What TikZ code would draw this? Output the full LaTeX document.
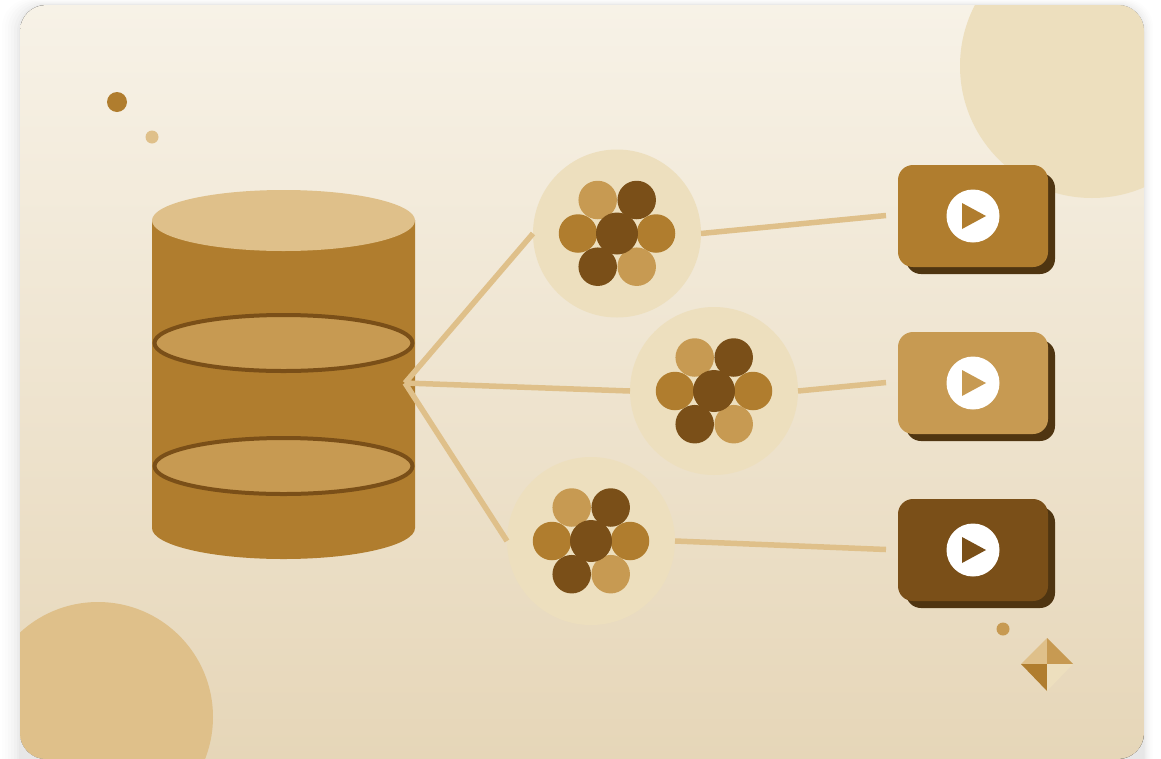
\documentclass[tikz,border=0pt]{standalone}
\definecolor{cMid}{HTML}{B07D2E}
\definecolor{cLight}{HTML}{C79A52}
\definecolor{cDark}{HTML}{7A4F18}
\definecolor{cDeep}{HTML}{4F3511}
\definecolor{cSand}{HTML}{DFC08A}
\definecolor{cPale}{HTML}{EDDFBE}
\definecolor{cTop}{HTML}{F7F2E7}
\definecolor{cBot}{HTML}{E6D6B8}
\tikzset{
  x=1pt,y=-1pt,
  disc/.style={circle,inner sep=0pt,minimum size=#1,outer sep=0pt},
  halo/.style={disc=168pt,fill=cPale},
  link/.style={draw=cSand,line width=5.5pt},
  vidbox/.style={rectangle,rounded corners=15pt,minimum width=150pt,minimum height=102pt,inner sep=0pt,outer sep=0pt,fill=#1},
  vidshade/.style={rectangle,rounded corners=15pt,minimum width=149pt,minimum height=101pt,inner sep=0pt,outer sep=0pt,fill=cDeep},
  band/.style={ellipse,inner sep=0pt,outer sep=0pt,minimum width=258pt,minimum height=56pt,fill=cLight,draw=cDark,line width=4pt},
  cluster/.pic={
    \node[disc=38.5pt,fill=cLight] at (-19.3,-33.5) {};
    \node[disc=38.5pt,fill=cDark] at (19.7,-33.5) {};
    \node[disc=38.5pt,fill=cMid] at (-39,0) {};
    \node[disc=38.5pt,fill=cMid] at (39,0) {};
    \node[disc=38.5pt,fill=cDark] at (-19.3,33.2) {};
    \node[disc=38.5pt,fill=cLight] at (19.7,33.2) {};
    \node[disc=42pt,fill=cDark] at (0,0) {};
  },
  playbtn/.pic={
    \node[disc=53pt,fill=white] at (0,0) {};
    \fill[fill=#1] (-11,-13) -- (13,0) -- (-11,13) -- cycle;
  },
}
\usetikzlibrary{shapes.geometric}
\begin{document}
\begin{tikzpicture}
\useasboundingbox (0,0) rectangle (1161,758);
\fill[white] (0,0) rectangle (1161,758);
% soft card shadow
\foreach \g/\o in {18/0.008,15/0.009,12/0.01,9/0.012,6/0.014,3/0.018,1/0.02}{
  \fill[black,opacity=\o,rounded corners=28pt] (20-\g,5-\g/3) rectangle (1144+\g/2,790);
}
\begin{scope}
  \clip[rounded corners=26pt] (20,5) rectangle (1144,759);
  \fill[top color=cTop,bottom color=cBot] (20,5) rectangle (1144,759);
  \node[disc=264pt,fill=cPale] (sunTR) at (1092,66) {};
  \node[disc=230pt,fill=cSand] (sunBL) at (98,717) {};
\end{scope}
% small decorations
\node[disc=20pt,fill=cMid] (dotA) at (117,102) {};
\node[disc=13pt,fill=cSand] (dotB) at (152,137) {};
\node[disc=13pt,fill=cLight] (dotC) at (1003,629) {};
\fill[cSand] (1047,638) -- (1047,664) -- (1021,664) -- cycle;
\fill[cLight] (1047,638) -- (1073,664) -- (1047,664) -- cycle;
\fill[cMid] (1021,664) -- (1047,664) -- (1047,691) -- cycle;
\fill[cPale] (1047,664) -- (1073,664) -- (1047,691) -- cycle;
% cylinder
\fill[cMid] (152,220) -- (415,220) -- (415,528) arc[start angle=0,end angle=180,x radius=131.5pt,y radius=-31pt] -- cycle;
\node[ellipse,inner sep=0pt,outer sep=0pt,minimum width=263pt,minimum height=61pt,fill=cSand] (cylTop) at (283.5,220.5) {};
\node[band] (bandA) at (283.5,343) {};
\node[band] (bandB) at (283.5,466) {};
% halos
\node[halo] (c1) at (617,233.5) {};
\node[halo] (c2) at (714,391) {};
\node[halo] (c3) at (591,541) {};
\pic at (c1) {cluster};
\pic at (c2) {cluster};
\pic at (c3) {cluster};
% videos
\node[vidshade] (s1) at (980.5,223.5) {};
\node[vidbox=cMid] (v1) at (973,216) {};
\pic at (v1) {playbtn=cMid};
\node[vidshade] (s2) at (980.5,390.5) {};
\node[vidbox=cLight] (v2) at (973,383) {};
\pic at (v2) {playbtn=cLight};
\node[vidshade] (s3) at (980.5,557.5) {};
\node[vidbox=cDark] (v3) at (973,550) {};
\pic at (v3) {playbtn=cDark};
% connectors
\coordinate (hub) at (405,383);
\coordinate (e1) at (886,215.5);
\coordinate (e2) at (886,382.5);
\coordinate (e3) at (886,549.5);
\draw[link] (hub) -- (c1.west);
\draw[link] (hub) -- (c2.west);
\draw[link] (hub) -- (c3.west);
\draw[link] (c1.east) -- (e1);
\draw[link] (c2.east) -- (e2);
\draw[link] (c3.east) -- (e3);
\end{tikzpicture}
\end{document}
